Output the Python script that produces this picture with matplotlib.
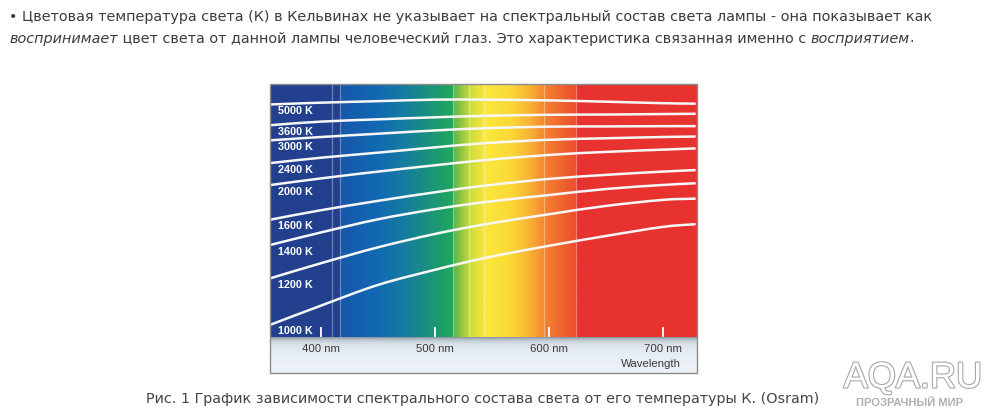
import numpy as np
import matplotlib
matplotlib.use("Agg")
import matplotlib.pyplot as plt
from matplotlib.colors import to_rgb
from matplotlib.patches import Rectangle, PathPatch
from matplotlib.path import Path
import matplotlib.patheffects as pe

# ---------------- data ----------------
wavelength = [356, 400, 450, 500, 545, 600, 650, 700, 729]
curve_labels = ["5000 K", "3600 K", "3000 K", "2400 K", "2000 K",
                "1600 K", "1400 K", "1200 K", "1000 K"]
k5000 = [92.1, 92.8, 93.4, 94.0, 94.0, 93.7, 93.2, 92.6, 92.4]
k3600 = [83.9, 85.3, 86.2, 87.0, 87.6, 88.0, 88.1, 88.3, 88.4]
k3000 = [77.9, 79.2, 80.5, 81.8, 82.7, 83.3, 83.4, 83.5, 83.5]
k2400 = [68.9, 71.0, 73.0, 75.1, 76.8, 78.1, 78.7, 79.2, 79.4]
k2000 = [60.2, 62.8, 65.5, 68.0, 70.1, 72.1, 73.3, 74.2, 74.7]
k1600 = [46.5, 50.2, 53.9, 57.3, 60.0, 62.6, 64.2, 65.5, 66.1]
k1400 = [36.5, 41.4, 46.6, 50.6, 53.5, 56.2, 58.6, 60.2, 60.9]
k1200 = [23.3, 29.2, 35.5, 40.8, 44.7, 48.6, 51.9, 54.3, 54.8]
k1000 = [4.9, 12.4, 20.6, 26.6, 31.4, 36.1, 40.0, 43.6, 44.7]
curves = [k5000, k3600, k3000, k2400, k2000, k1600, k1400, k1200, k1000]

tick_nm = [400, 500, 600, 700]
tick_labels = ["400 nm", "500 nm", "600 nm", "700 nm"]
band_edges = [410, 417, 516, 530, 543, 596, 624]
x_label = "Wavelength"

para_line1 = [("• Цветовая температура света (К) в Кельвинах не указывает на спектральный состав света лампы - она показывает как", "normal")]
para_line2 = [("воспринимает", "italic"),
              (" цвет света от данной лампы человеческий глаз. Это характеристика связанная именно с ", "normal"),
              ("восприятием", "italic"), (".", "normal")]
caption = "Рис. 1 График зависимости спектрального состава света от его температуры К. (Osram)"
wm_big = "AQA.RU"
wm_small = "ПРОЗРАЧНЫЙ МИР"

# spectrum colour stops (nm, colour)
spec_nm = [356, 416.5, 417, 448, 470, 487, 502, 515.5, 516, 531, 544, 566, 584, 597, 623, 623.5, 729]
spec_col = ['#22408e', '#22408e', '#1757a9', '#1268b2', '#147aa2', '#188a8a', '#1c9a70', '#1fa95a',
            '#5cb44a', '#cedc3e', '#fbe83a', '#fbd836', '#f8ae33', '#f38030', '#ec4c2e', '#e8322f', '#e8322f']

# ---------------- figure ----------------
W, H = 998, 420
plt.rcParams['font.family'] = ['DejaVu Sans']
fig = plt.figure(figsize=(W / 100, H / 100), dpi=100)
fig.patch.set_facecolor('white')
renderer = fig.canvas.get_renderer()


def fx(x):
    return x / W


def fy(y):
    return 1 - y / H


CHART = 'Liberation Sans'


def smooth_path(x, y):
    """Smooth (Catmull-Rom -> cubic Bezier) path through the given points."""
    p = np.column_stack([x, y]).astype(float)
    ext = np.vstack([p[0] - (p[1] - p[0]), p, p[-1] + (p[-1] - p[-2])])
    verts = [p[0]]
    codes = [Path.MOVETO]
    for i in range(1, len(ext) - 2):
        p0, p1, p2, p3 = ext[i - 1], ext[i], ext[i + 1], ext[i + 2]
        c1 = p1 + (p2 - p0) / 6.0
        c2 = p2 - (p3 - p1) / 6.0
        verts += [c1, c2, p2]
        codes += [Path.CURVE4] * 3
    return Path(verts, codes)


# plot area
L, T, R, B = 270.7, 84.5, 695.7, 337.0
ax = fig.add_axes([fx(L), fy(B), (R - L) / W, (B - T) / H], zorder=2)
ax.set_xlim(wavelength[0], wavelength[-1])
ax.set_ylim(0, 100)

xs = np.linspace(wavelength[0], wavelength[-1], 1500)
rgb = np.array([to_rgb(c) for c in spec_col])
img = np.stack([np.interp(xs, spec_nm, rgb[:, i]) for i in range(3)], axis=-1)[None, :, :]
ax.imshow(img, extent=[wavelength[0], wavelength[-1], 0, 100], aspect='auto',
          interpolation='bilinear', zorder=0)

for e in band_edges:
    ax.axvline(e, color='white', alpha=0.35, lw=0.9, zorder=1)

for vals, lab in zip(curves, curve_labels):
    ax.add_patch(PathPatch(smooth_path(wavelength, vals), fill=False, ec='#f7f7f7',
                           lw=1.8, zorder=3, capstyle='butt'))
    ax.text(362.5, vals[0] - 2.7, lab, color='white', fontsize=7.8, fontweight='bold',
            family=CHART, va='center', ha='left', zorder=4)

ax.set_xticks(tick_nm, tick_labels)
ax.set_yticks([])
ax.tick_params(axis='x', direction='in', length=7, width=1.4, color='#f4f4f4',
               pad=5, labelsize=8.2, labelcolor='#3a3a3a')
for t in ax.get_xticklabels():
    t.set_family(CHART)
for s in ax.spines.values():
    s.set_visible(False)

# bottom strip with shadow
SB = 372.7
ax2 = fig.add_axes([fx(L), fy(SB), (R - L) / W, (SB - B) / H], zorder=1)
rows = 40
r = np.arange(rows)[:, None]
top_c = np.array(to_rgb('#dfe8ef'))
bot_c = np.array(to_rgb('#eef3f8'))
shadow = np.array(to_rgb('#6f7b86'))
base = top_c + (bot_c - top_c) * (r / (rows - 1))
wgt = 0.75 * np.exp(-r / 3.5)
strip = base * (1 - wgt) + shadow * wgt
ax2.imshow(strip[:, None, :].repeat(4, axis=1), extent=[0, 1, 0, 1], aspect='auto',
           interpolation='bilinear')
ax2.set_axis_off()

fig.text(fx(680.7), fy(364.3), x_label, ha='right', va='center', fontsize=8.2,
         color='#3a3a3a', family=CHART)

fig.add_artist(Rectangle((fx(270), fy(373)), 426.5 / W, 289 / H, transform=fig.transFigure,
                         fill=False, ec='#8c8c8c', lw=1.0, zorder=5))


# ---------------- page text ----------------
def measure(s, size, style):
    t = fig.text(0, 0, "|" + s + "|", fontsize=size, style=style)
    t0 = fig.text(0, 0, "||", fontsize=size, style=style)
    w = t.get_window_extent(renderer).width - t0.get_window_extent(renderer).width
    t.remove()
    t0.remove()
    return w


def place(x0, y, segs, size, color):
    x = x0
    for s, st in segs:
        fig.text(fx(x), fy(y), s, fontsize=size, style=st, color=color,
                 ha='left', va='center')
        x += measure(s, size, st)


base_size = 10.0
w1 = measure(para_line1[0][0], base_size, 'normal')
size = base_size * 929.0 / w1
TXT = '#3d3d3d'
place(9, 17.5, para_line1, size, TXT)
place(9, 38.5, para_line2, size, TXT)

fig.text(fx(482.5), fy(398.5), caption, ha='center', va='center', fontsize=size, color='#454545')

fig.text(fx(913), fy(378), wm_big, ha='center', va='center', fontsize=26, family=CHART,
         color='white', path_effects=[pe.withStroke(linewidth=1.6, foreground='#a8a8a8')])
fig.text(fx(910), fy(402.5), wm_small, ha='center', va='center', fontsize=8, family=CHART,
         fontweight='bold', color='#b0b0b0')

fig.savefig('out.png', dpi=100)
